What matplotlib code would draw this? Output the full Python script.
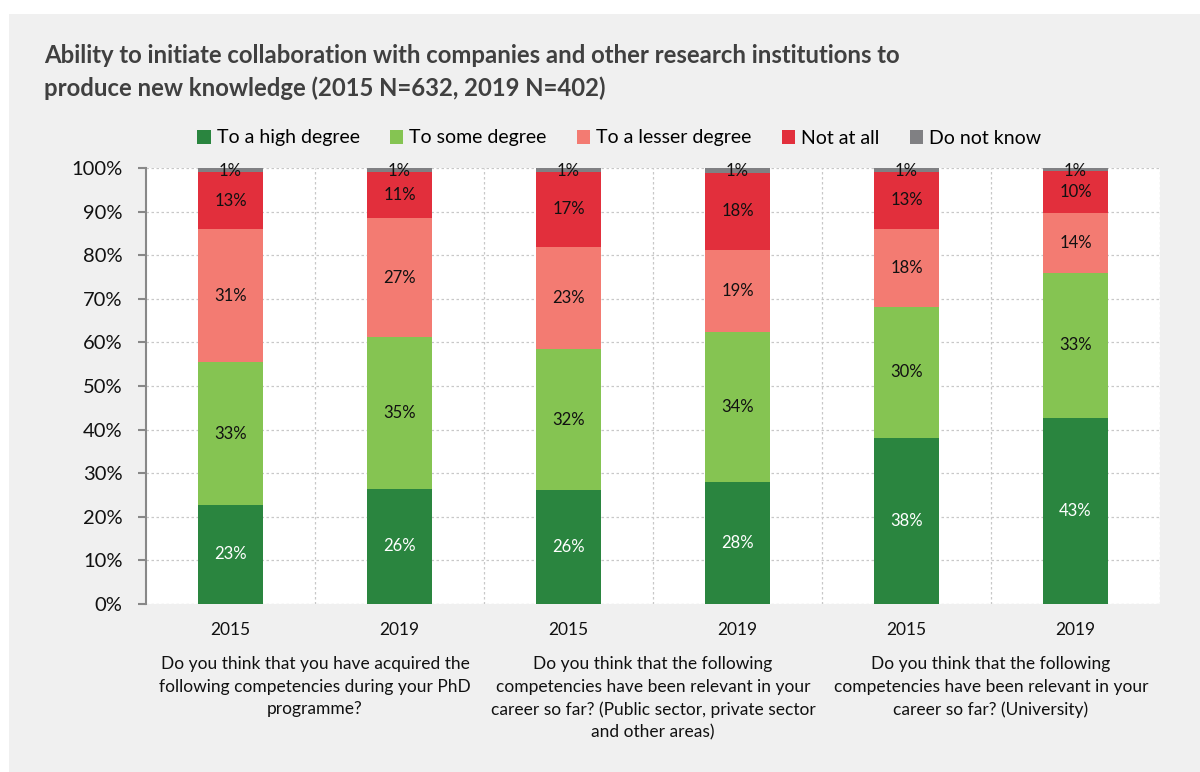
import numpy as np
import matplotlib.pyplot as plt
from matplotlib.patches import Rectangle

plt.rcParams['font.family'] = ['Lato', 'DejaVu Sans']

years = ['2015', '2019', '2015', '2019', '2015', '2019']
groups = ['Do you think that you have acquired the\nfollowing competencies during your PhD\nprogramme?',
          'Do you think that the following\ncompetencies have been relevant in your\ncareer so far? (Public sector, private sector\nand other areas)',
          'Do you think that the following\ncompetencies have been relevant in your\ncareer so far? (University)']

series = ['To a high degree', 'To some degree', 'To a lesser degree', 'Not at all', 'Do not know']
high    = [22.8, 26.4, 26.1, 28.0, 38.1, 42.7]
some    = [32.6, 34.8, 32.4, 34.4, 30.0, 33.2]
lesser  = [30.6, 27.3, 23.4, 18.8, 17.9, 13.8]
notall  = [13.0, 10.6, 17.2, 17.7, 13.1, 9.6]
dnk     = [1.0, 0.9, 0.9, 1.1, 0.9, 0.7]
labels_high   = [23, 26, 26, 28, 38, 43]
labels_some   = [33, 35, 32, 34, 30, 33]
labels_lesser = [31, 27, 23, 19, 18, 14]
labels_not    = [13, 11, 17, 18, 13, 10]
labels_dnk    = [1, 1, 1, 1, 1, 1]

colors = ['#2a853f', '#85c452', '#f37b72', '#e22f3c', '#808083']
txtcol = ['white', '#111111', '#111111', '#111111', '#111111']

fig = plt.figure(figsize=(12, 7.72), dpi=100)
fig.patch.set_facecolor('white')
fig.patches.append(Rectangle((9/1200, 0), 1 - 9/1200, 1 - 14/772, transform=fig.transFigure,
                             facecolor='#f0f0f0', edgecolor='none', zorder=-10))

ax = fig.add_axes([146/1200, (772-604)/772, (1160-146)/1200, (604-168)/772])
ax.set_facecolor('white')

x = np.arange(len(years))
data = [high, some, lesser, notall, dnk]
labs = [labels_high, labels_some, labels_lesser, labels_not, labels_dnk]
bottom = np.zeros(len(years))
for k, (vals, lab) in enumerate(zip(data, labs)):
    vals = np.array(vals)
    ax.bar(x, vals, 0.39, bottom=bottom, color=colors[k], label=series[k], zorder=3)
    for i in range(len(x)):
        if k == 4:
            yy = bottom[i] + vals[i] - 0.6
        else:
            yy = bottom[i] + vals[i] / 2
        ax.text(x[i], yy, f'{lab[i]}%', ha='center', va='center', fontsize=12,
                color=txtcol[k], zorder=4)
    bottom += vals

ax.set_xlim(-0.5, 5.5)
ax.set_ylim(0, 100)
ax.set_yticks(np.arange(0, 101, 10))
ax.set_yticklabels([f'{v}%' for v in range(0, 101, 10)], fontsize=14.5, color='#111111')
ax.set_xticks(x)
ax.set_xticklabels(years, fontsize=12.5, color='#111111')
ax.tick_params(axis='x', length=0, pad=13)
ax.tick_params(axis='y', length=6, width=1.5, color='#888888', pad=11)

for v in range(10, 101, 10):
    ax.axhline(v, color='#c8c8c8', lw=0.9, ls=(0, (2, 2)), zorder=1)
for v in np.arange(0.5, 5.6, 1):
    ax.axvline(v, color='#c8c8c8', lw=0.9, ls=(0, (2, 2)), zorder=1)
for s in ['top', 'right', 'bottom']:
    ax.spines[s].set_visible(False)
ax.axhline(0, color='#c8c8c8', lw=0.9, ls=(0, (2, 2)), zorder=1)
ax.spines['left'].set_color('#888888')
ax.spines['left'].set_linewidth(1.5)

for g, txt in enumerate(groups):
    ax.text(2 * g + 0.5, -12.0, txt, ha='center', va='top', fontsize=12.5,
            color='#111111', linespacing=1.5, transform=ax.transData)

leg = fig.legend(loc='center', bbox_to_anchor=(0.516, 1 - 138/772), ncol=5, frameon=False,
                 fontsize=14, handlelength=0.7, handleheight=0.7, handletextpad=0.3,
                 columnspacing=1.55)

fig.text(44/1200, 1 - 72/772, 'Ability to initiate collaboration with companies and other research institutions to\nproduce new knowledge (2015 N=632, 2019 N=402)',
         ha='left', va='center', fontsize=17.2, fontweight='bold', color='#404040', linespacing=1.45)

fig.savefig('out.png', dpi=100)
